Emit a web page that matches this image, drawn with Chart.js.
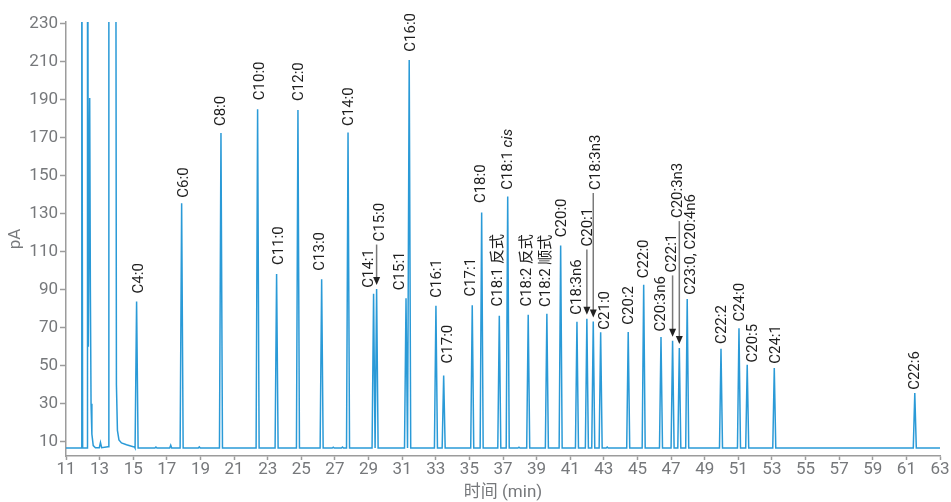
<!DOCTYPE html>
<html>
<head>
<meta charset="utf-8">
<title>FAME chromatogram</title>
<script src="https://cdn.jsdelivr.net/npm/chart.js@4"></script>
<style>
  html, body { margin: 0; padding: 0; background: #fff; }
  #chart { display: block; }
</style>
</head>
<body>
<canvas id="chart" width="951" height="502"></canvas>
<script>
// peaks (time in min, height in pA)
const peakNames = [
  'C4:0', 'C6:0', 'C8:0', 'C10:0', 'C11:0', 'C12:0', 'C13:0', 'C14:0',
  'C14:1', 'C15:0', 'C15:1', 'C16:0', 'C16:1', 'C17:0', 'C17:1', 'C18:0',
  'C18:1 反式', 'C18:1 cis', 'C18:2 反式', 'C18:2 顺式', 'C20:0', 'C18:3n6',
  'C20:1', 'C18:3n3', 'C21:0', 'C20:2', 'C22:0', 'C20:3n6', 'C22:1',
  'C20:3n3', 'C23:0, C20:4n6', 'C22:2', 'C24:0', 'C20:5', 'C24:1', 'C22:6'
];
const peakTimes = [
  15.20, 17.88, 20.22, 22.40, 23.53, 24.80, 26.21, 27.78,
  29.30, 29.48, 31.23, 31.42, 33.01, 33.47, 35.17, 35.73,
  36.78, 37.28, 38.50, 39.61, 40.43, 41.40,
  41.99, 42.37, 42.81, 44.45, 45.37, 46.40, 47.09,
  47.49, 47.96, 49.97, 51.04, 51.53, 53.14, 61.50
];
const peakHeights = [
  83.9, 135.6, 172.5, 185.1, 98.3, 184.7, 95.6, 172.8,
  87.9, 90.4, 85.6, 211.0, 81.6, 44.9, 81.9, 130.7,
  76.3, 139.1, 76.8, 77.4, 113.3, 73.2,
  74.7, 73.3, 67.6, 67.8, 92.6, 65.1, 63.2,
  59.3, 85.1, 58.9, 69.8, 50.5, 48.8, 35.6
];

// solvent front at the start of the run (off-scale peaks go past 230)
const solventTimes = [
  11.00, 11.90, 11.94, 11.99, 12.25, 12.28, 12.33, 12.41, 12.45, 12.49,
  12.54, 12.62, 12.75, 12.98, 13.05, 13.12, 13.50, 13.55, 13.95, 14.00,
  14.06, 14.15, 14.30, 14.60, 15.00, 15.08
];
const solventValues = [
  6.7, 6.7, 300, 6.7, 6.7, 400, 60, 191, 90, 30,
  14, 8.0, 6.8, 6.8, 9.6, 6.9, 7.4, 400, 400, 40,
  16, 11.0, 9.4, 8.4, 7.4, 7.2
];

// small humps on the baseline
const minorTimes = [16.35, 17.23, 18.93, 26.90, 27.45, 37.95, 43.20];
const minorHeights = [7.2, 8.2, 7.3, 7.1, 7.2, 7.1, 7.2];

const baseline = 6.7;
const xTicks = [11, 13, 15, 17, 19, 21, 23, 25, 27, 29, 31, 33, 35, 37, 39, 41, 43, 45, 47, 49, 51, 53, 55, 57, 59, 61, 63];
const yTicks = [10, 30, 50, 70, 90, 110, 130, 150, 170, 190, 210, 230];

// label placement in px: sideways shift, gap above the peak, arrow or not
const labelLayout = [
  [1.5, 8], [1, 5.5], [-1, 7], [1, 9], [1, 9], [0, 9], [-2.5, 8.5], [-0.5, 6.5],
  [-6, 6], [2.3, 47.5, true], [-7, 8], [0.7, 8.3], [0, 8], [3, 12], [-2.5, 8.6], [-1.5, 9.4],
  [-3, 9.3], [-1, 6.7], [-2.5, 8.3], [-2, 6.7], [0, 8.4], [-1.2, 7],
  [0, 72.3, true], [1, 131.5, true], [3.5, 2.7], [-0.5, 7.3], [-0.7, 6.7], [-1.3, 5.6], [-1.5, 68.3, true],
  [-2.6, 130, true], [3, 4.3], [-0.7, 5], [0, 6.6], [5, 2.3], [0, 4.3], [-1, 3.3]
];

const FONT = 'Roboto, "Noto Sans CJK SC", sans-serif';
const GREY = '#76787b';
const AXIS = '#9c9c9c';
const TRACE = '#2a9ad7';

function buildTrace() {
  const pts = [];
  solventTimes.forEach((t, i) => pts.push({ x: t, y: solventValues[i] }));
  minorTimes.forEach((t, i) => {
    pts.push({ x: t - 0.06, y: baseline });
    pts.push({ x: t, y: minorHeights[i] });
    pts.push({ x: t + 0.06, y: baseline });
  });
  peakTimes.forEach((t, i) => {
    pts.push({ x: t - 0.09, y: baseline });
    pts.push({ x: t, y: peakHeights[i] });
    pts.push({ x: t + 0.09, y: baseline });
  });
  pts.push({ x: 63, y: baseline });
  pts.sort((a, b) => a.x - b.x);
  return pts;
}

const peakLabels = {
  id: 'peakLabels',
  afterDatasetsDraw(chart) {
    const { ctx, scales: { x, y } } = chart;
    ctx.save();
    peakNames.forEach((name, i) => {
      const [dx, gap, arrow] = labelLayout[i];
      const px = x.getPixelForValue(peakTimes[i]);
      const py = y.getPixelForValue(peakHeights[i]);
      const textBottom = py - gap;

      if (arrow) {
        const tipY = py - 4;
        const headLen = 8;
        ctx.strokeStyle = '#7a7a7a';
        ctx.lineWidth = 1.5;
        ctx.beginPath();
        ctx.moveTo(px, textBottom + 3);
        ctx.lineTo(px, tipY - headLen + 1);
        ctx.stroke();
        ctx.fillStyle = '#222';
        ctx.beginPath();
        ctx.moveTo(px, tipY);
        ctx.lineTo(px - 3.5, tipY - headLen);
        ctx.lineTo(px + 3.5, tipY - headLen);
        ctx.closePath();
        ctx.fill();
      }

      ctx.save();
      ctx.translate(px + dx + 1.5, textBottom);
      ctx.rotate(-Math.PI / 2);
      ctx.textAlign = 'left';
      ctx.textBaseline = 'middle';
      ctx.fillStyle = '#1e1e1e';
      let cx = 0;
      const words = name.split(' ');
      words.forEach((w, k) => {
        const italic = w === 'cis';
        ctx.font = (italic ? 'italic ' : '') + '15px ' + FONT;
        const piece = k < words.length - 1 ? w + ' ' : w;
        ctx.fillText(piece, cx, 0);
        cx += ctx.measureText(piece).width;
      });
      ctx.restore();
    });
    ctx.restore();
  }
};

new Chart(document.getElementById('chart'), {
  type: 'line',
  data: {
    datasets: [{
      data: buildTrace(),
      borderColor: TRACE,
      borderWidth: 1.5,
      pointRadius: 0,
      tension: 0,
      fill: false
    }]
  },
  options: {
    responsive: false,
    animation: false,
    devicePixelRatio: 1,
    layout: { padding: { top: 22, right: 11, left: 0, bottom: 0 } },
    plugins: { legend: { display: false }, tooltip: { enabled: false } },
    scales: {
      x: {
        type: 'linear',
        min: 11,
        max: 63,
        afterBuildTicks: s => { s.ticks = xTicks.map(v => ({ value: v })); },
        afterFit: s => { s.height = 46; },
        grid: { drawOnChartArea: false, drawTicks: true, tickLength: 4, color: AXIS, tickWidth: 1.5 },
        border: { color: AXIS, width: 1.5 },
        ticks: { font: { family: FONT, size: 17 }, color: GREY, padding: 0, maxRotation: 0, autoSkip: false },
        title: { display: true, text: '时间 (min)', font: { family: FONT, size: 17 }, color: GREY, padding: { top: 0, bottom: -1 } }
      },
      y: {
        min: 2.5,
        max: 231,
        afterBuildTicks: s => { s.ticks = yTicks.map(v => ({ value: v })); },
        afterFit: s => { s.width = 66; },
        grid: { drawOnChartArea: false, drawTicks: true, tickLength: 6, color: AXIS, tickWidth: 1.5 },
        border: { color: AXIS, width: 1.5 },
        ticks: { font: { family: FONT, size: 17 }, color: GREY, padding: 2 },
        title: { display: true, text: 'pA', font: { family: FONT, size: 17 }, color: GREY, padding: { top: 6, bottom: 0 } }
      }
    }
  },
  plugins: [peakLabels]
});
</script>
</body>
</html>
